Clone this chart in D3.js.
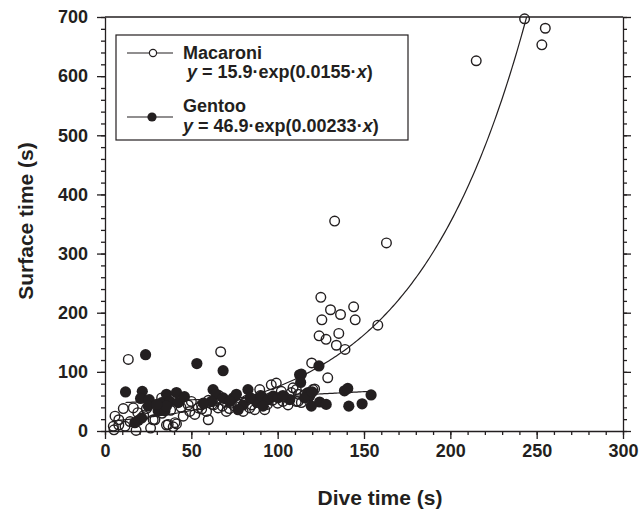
<!DOCTYPE html>
<html>
<head>
<meta charset="utf-8">
<script src="https://cdn.jsdelivr.net/npm/d3@7"></script>
<style>
  body { margin: 0; background: #fff; }
  svg text { font-family: "Liberation Sans", Arial, sans-serif; font-weight: bold; fill: #231f20; }
</style>
</head>
<body>
<div id="chart"></div>
<script>
// Macaroni penguins (open circles): dive time (s) / surface time (s)
var macX = [243, 255, 253, 215, 163, 133, 158,
  125, 130.6, 136.4, 144, 125.6, 144.9, 135.4, 124, 128, 134, 139,
  129, 119.7, 121.4,
  13.5, 67,
  4.8, 5.2, 5.8, 10.6, 16.4, 18, 26.4, 35.6, 41.4, 27.9, 22.4, 32.8, 11.6, 8, 14.5, 28.9, 40.5, 39.5, 36.6,
  45.3, 49.1, 54, 59.8, 58.8, 65.5, 69.4, 70.3, 52, 55.9, 48.2, 73.2, 62, 78, 85, 60,
  96.3, 99.2, 89.6, 83.8, 86.7, 92.5, 80, 75.1, 102.1, 107.9, 108.9, 110.8, 103.1, 95.4,
  110.8, 111.8, 113.7, 120.4, 116, 88, 66,
  44, 50, 56, 63, 68, 72, 76, 82, 85, 90, 94, 97, 100, 104, 106, 112, 118, 33, 38, 24, 19, 8];
var macY = [697, 681, 653, 626, 318, 355, 179,
  226, 205, 197, 210, 188, 188, 165, 161, 155, 145, 138,
  90, 115, 71,
  121, 134,
  8, 2, 25, 38, 39, 1, 5, 10, 12, 19, 26, 56, 8, 19, 16, 19, 14, 7, 11,
  25, 33, 39, 19, 33, 39, 50, 33, 28, 44, 44, 47, 45, 45, 55, 52,
  78, 81, 70, 39, 36, 36, 33, 42, 67, 65, 73, 50, 50, 56,
  70, 50, 48, 70, 62, 48, 60,
  40, 50, 37, 44, 42, 38, 48, 52, 44, 60, 45, 52, 47, 58, 44, 62, 57, 30, 35, 38, 31, 10];

// Gentoo penguins (filled circles)
var genX = [23.5, 53.2, 68.4, 11.9, 21.6, 20.6, 25.6, 25, 32.8, 30.8, 34.7, 19.3, 21.2, 17.3,
  35.6, 41.4, 37.6, 42.4, 35.6, 62.6, 64.5, 68.4, 61.6, 74.2,
  76.1, 82.8, 72.3, 80, 77.1, 87.7, 90.6, 94.4, 97.4, 91.5, 100.2, 107, 112.7,
  123.9, 113.7, 113.3, 117.6, 118.5, 115.6, 119.5, 124.3, 128.1, 138.7, 140.6, 154.1, 141.2, 148.9, 120,
  46, 30, 57, 84, 103];
var genY = [129, 114, 102, 66, 67, 55, 53, 42, 48, 34, 34, 18, 22, 14,
  62, 65, 50, 48, 42, 70, 62, 56, 50, 56,
  62, 70, 50, 44, 36, 50, 59, 53, 59, 42, 56, 53, 95,
  110, 96, 82, 65, 59, 56, 42, 49, 45, 68, 72, 61, 42, 46, 66,
  58, 45, 47, 56, 60];

// fitted curves y = a * exp(b * x)
var macFit = [15.9, 0.0155];
var genFit = [46.9, 0.00233];

var xTicks = [0, 50, 100, 150, 200, 250, 300];
var yTicks = [0, 100, 200, 300, 400, 500, 600, 700];

var W = 644, H = 514;
var pL = 105, pR = 623, pT = 17, pB = 431;
var ink = "#231f20";

var svg = d3.select("#chart").append("svg")
  .attr("width", W).attr("height", H);

var x = d3.scaleLinear().domain([0, 300]).range([pL, pR]);
var y = d3.scaleLinear().domain([0, 700]).range([pB, pT]);

svg.append("clipPath").attr("id", "plot")
  .append("rect").attr("x", pL).attr("y", pT)
  .attr("width", pR - pL).attr("height", pB - pT);

// top frame line
svg.append("line").attr("x1", pL).attr("x2", pR).attr("y1", pT).attr("y2", pT)
  .attr("stroke", ink).attr("stroke-width", 1.3);

function styleAxis(g) {
  g.select(".domain").attr("stroke", ink).attr("stroke-width", 1.3);
  g.selectAll(".tick line").attr("stroke", ink).attr("stroke-width", 1.3);
}

// x axis: minor then major
var gx = svg.append("g").attr("transform", "translate(0," + pB + ")")
  .call(d3.axisBottom(x).tickValues(d3.range(0, 301, 10)).tickSize(4).tickFormat(""))
  .call(styleAxis);
gx.select(".domain").remove();
svg.append("g").attr("transform", "translate(0," + pB + ")")
  .call(d3.axisBottom(x).tickValues(xTicks).tickSize(8).tickSizeOuter(0).tickPadding(5))
  .call(styleAxis)
  .call(g => g.selectAll("text").attr("font-size", 18).attr("fill", ink));

// y axis
var gy = svg.append("g").attr("transform", "translate(" + pL + ",0)")
  .call(d3.axisLeft(y).tickValues(d3.range(0, 701, 20)).tickSize(4).tickFormat(""))
  .call(styleAxis);
gy.select(".domain").remove();
svg.append("g").attr("transform", "translate(" + pL + ",0)")
  .call(d3.axisLeft(y).tickValues(yTicks).tickSize(8).tickSizeOuter(0).tickPadding(9))
  .call(styleAxis)
  .call(g => g.selectAll("text").attr("font-size", 18).attr("fill", ink));

// right side
var gr = svg.append("g").attr("transform", "translate(" + pR + ",0)")
  .call(d3.axisRight(y).tickValues(d3.range(0, 701, 20)).tickSize(4).tickFormat(""))
  .call(styleAxis);
gr.select(".domain").remove();
svg.append("g").attr("transform", "translate(" + pR + ",0)")
  .call(d3.axisRight(y).tickValues(yTicks).tickSize(8).tickSizeOuter(0).tickFormat(""))
  .call(styleAxis);

// axis titles
svg.append("text").attr("x", 380).attr("y", 505).attr("text-anchor", "middle")
  .attr("font-size", 21).text("Dive time (s)");
svg.append("text").attr("transform", "translate(33,221) rotate(-90)")
  .attr("text-anchor", "middle").attr("font-size", 21).text("Surface time (s)");

// fitted curves over each species' range of dive times
var line = d3.line().x(d => x(d[0])).y(d => y(d[1]));
function fitPts(xs, p) {
  var lo = d3.min(xs), hi = d3.max(xs);
  return d3.range(lo, hi, 1).concat([hi]).map(v => [v, p[0] * Math.exp(p[1] * v)]);
}
var plot = svg.append("g").attr("clip-path", "url(#plot)");
plot.append("path").attr("d", line(fitPts(macX, macFit)))
  .attr("fill", "none").attr("stroke", ink).attr("stroke-width", 1.2);
plot.append("path").attr("d", line(fitPts(genX, genFit)))
  .attr("fill", "none").attr("stroke", ink).attr("stroke-width", 1.2);

// points
svg.append("g").selectAll("circle").data(macX.map((v, i) => [v, macY[i]]))
  .enter().append("circle")
  .attr("cx", d => x(d[0])).attr("cy", d => y(d[1])).attr("r", 4.8)
  .attr("fill", "none").attr("stroke", ink).attr("stroke-width", 1.4);
svg.append("g").selectAll("circle").data(genX.map((v, i) => [v, genY[i]]))
  .enter().append("circle")
  .attr("cx", d => x(d[0])).attr("cy", d => y(d[1])).attr("r", 5.6)
  .attr("fill", ink);

// legend
var lg = svg.append("g");
lg.append("rect").attr("x", 116).attr("y", 35).attr("width", 292).attr("height", 105)
  .attr("fill", "#fff").attr("stroke", ink).attr("stroke-width", 1.2);
lg.append("line").attr("x1", 127).attr("x2", 173).attr("y1", 53).attr("y2", 53)
  .attr("stroke", ink).attr("stroke-width", 1.2);
lg.append("circle").attr("cx", 153).attr("cy", 53).attr("r", 3.6)
  .attr("fill", "#fff").attr("stroke", ink).attr("stroke-width", 1.2);
lg.append("line").attr("x1", 127).attr("x2", 173).attr("y1", 117).attr("y2", 117)
  .attr("stroke", ink).attr("stroke-width", 1.2);
lg.append("circle").attr("cx", 152).attr("cy", 117).attr("r", 4.6).attr("fill", ink);

lg.append("text").attr("x", 183).attr("y", 59).attr("font-size", 18).text("Macaroni");
var e1 = lg.append("text").attr("x", 187).attr("y", 78).attr("font-size", 18);
e1.append("tspan").attr("font-style", "italic").text("y");
e1.append("tspan").text(" = " + macFit[0] + "\u00b7exp(" + macFit[1] + "\u00b7");
e1.append("tspan").attr("font-style", "italic").text("x");
e1.append("tspan").text(")");
lg.append("text").attr("x", 183).attr("y", 112).attr("font-size", 18).text("Gentoo");
var e2 = lg.append("text").attr("x", 183).attr("y", 132).attr("font-size", 18);
e2.append("tspan").attr("font-style", "italic").text("y");
e2.append("tspan").text(" = " + genFit[0] + "\u00b7exp(" + genFit[1] + "\u00b7");
e2.append("tspan").attr("font-style", "italic").text("x");
e2.append("tspan").text(")");
</script>
</body>
</html>
